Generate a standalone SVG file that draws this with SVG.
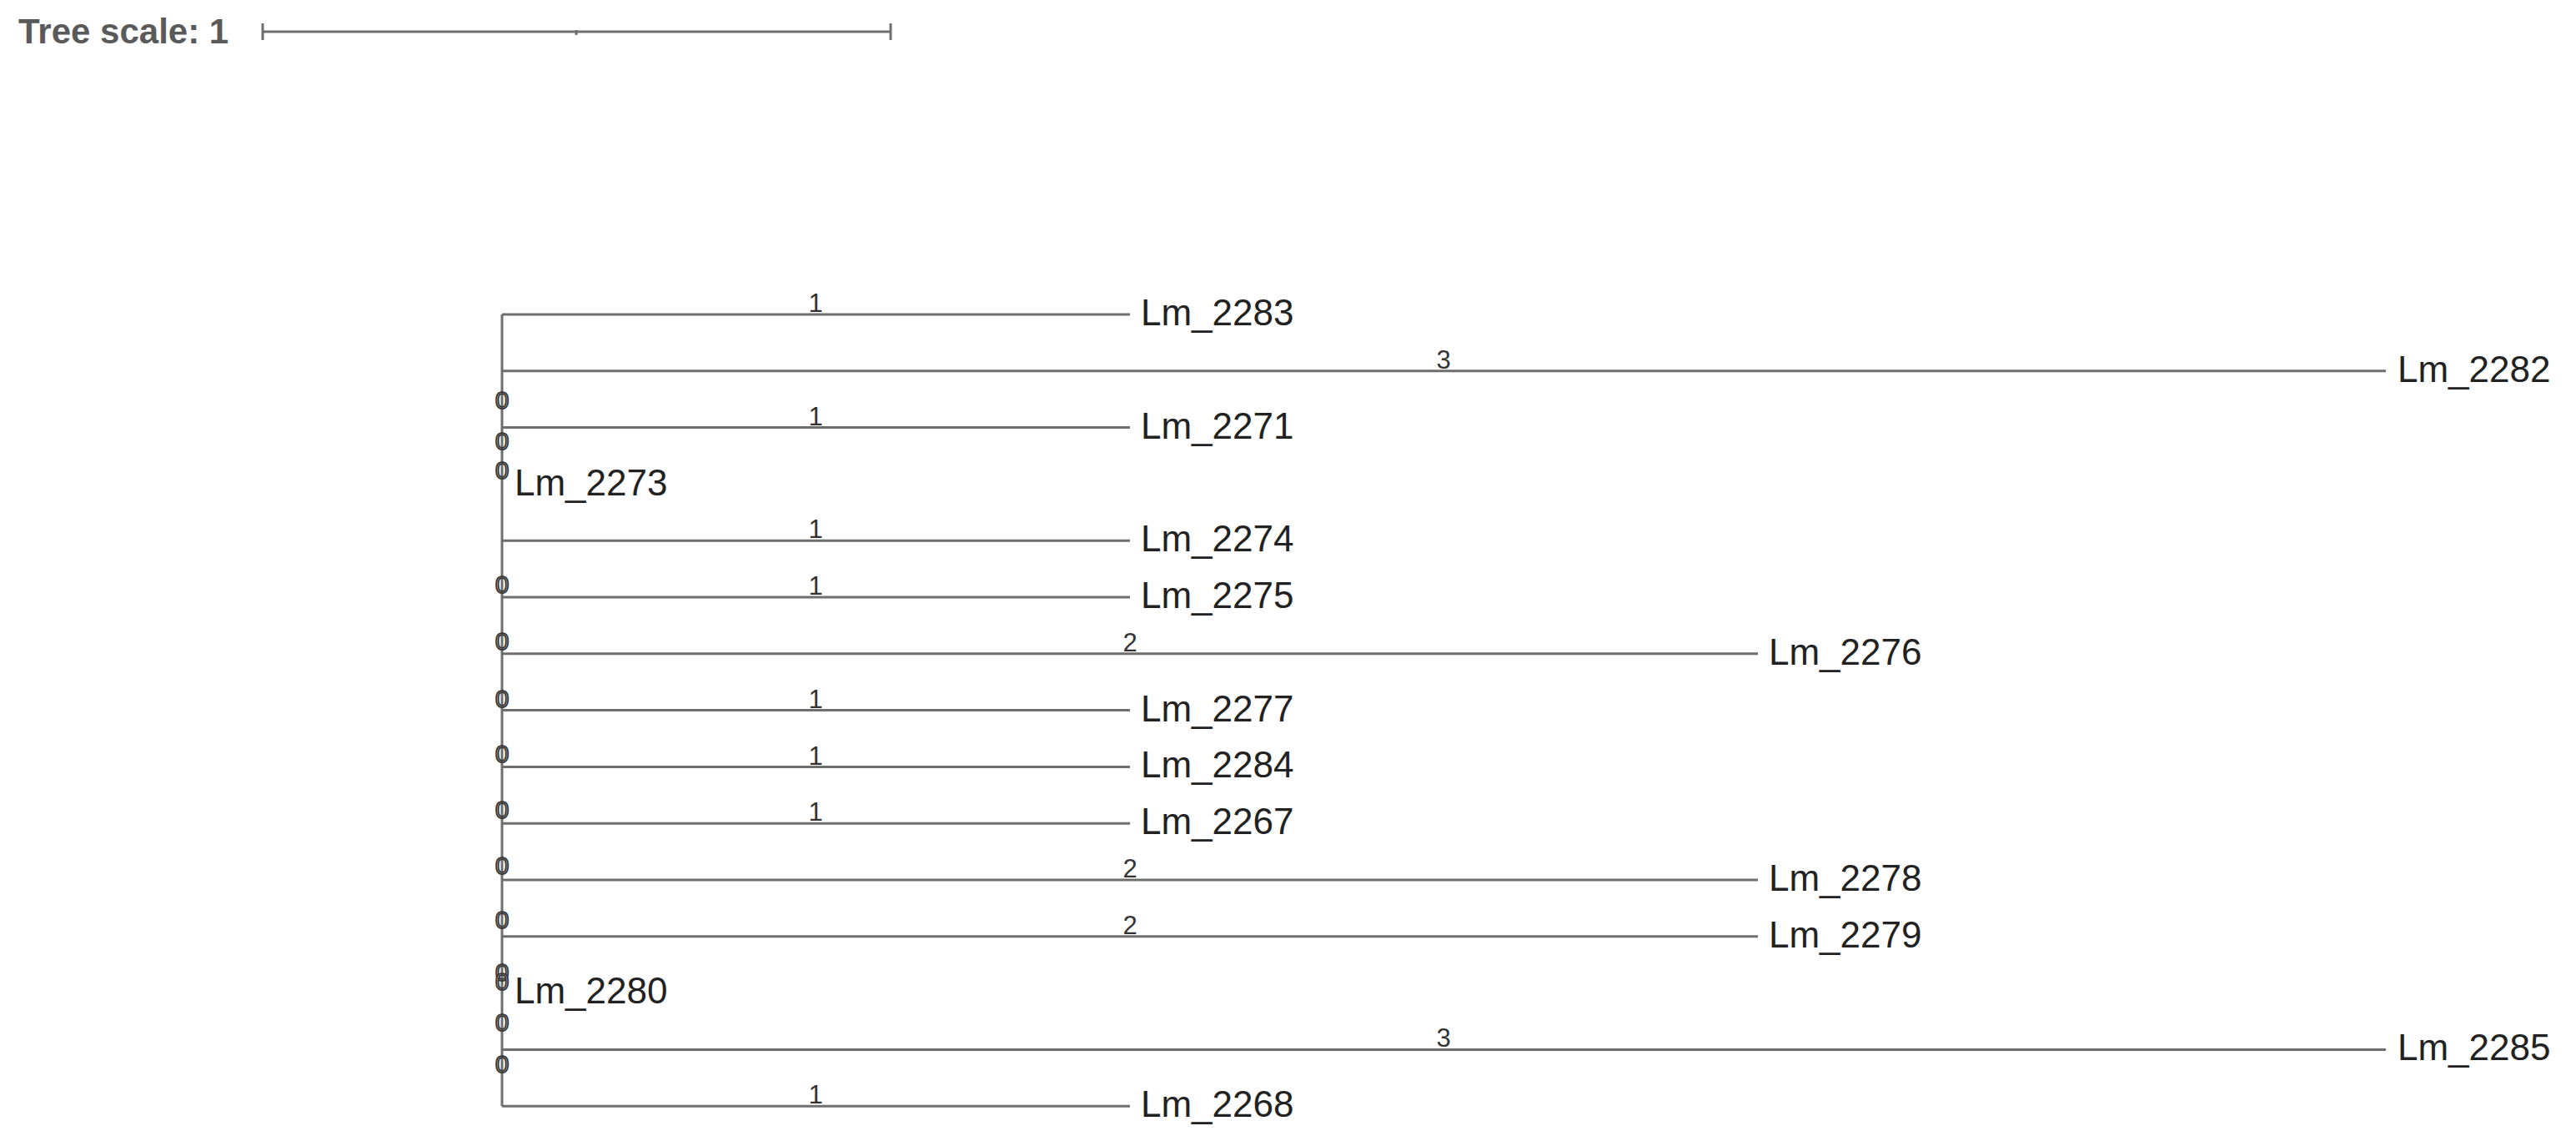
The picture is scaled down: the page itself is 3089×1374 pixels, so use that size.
<svg xmlns="http://www.w3.org/2000/svg" width="3089" height="1374" viewBox="0 0 3089 1374">
<style>
.br{stroke:#6e6e6e;stroke-width:3;fill:none}
.lbl{font-family:"Liberation Sans",Arial,sans-serif;font-size:44px;fill:#222}
.bl{font-family:"Liberation Sans",Arial,sans-serif;font-size:31px;fill:#333;text-anchor:middle}
.z{font-family:"Liberation Sans",Arial,sans-serif;font-size:30px;fill:#9a9a9a;stroke:#333;stroke-width:1.6;text-anchor:middle}
.ts{font-family:"Liberation Sans",Arial,sans-serif;font-size:42px;font-weight:bold;fill:#5a5a5a}
</style>
<rect width="3089" height="1374" fill="#fff"/>
<g id="scale">
<text class="ts" x="22" y="52">Tree scale: 1</text>
<line class="br" x1="315" y1="38" x2="1068" y2="38"/>
<line class="br" x1="315" y1="28" x2="315" y2="48"/>
<line class="br" x1="691" y1="36" x2="691" y2="42"/>
<line class="br" x1="1068" y1="28" x2="1068" y2="48"/>
</g>
<g id="connectors">
<line class="br" x1="602" y1="377" x2="602" y2="1326.2"/>
<line class="br" x1="602" y1="377" x2="1355" y2="377"/>
<line class="br" x1="602" y1="444.8" x2="2861" y2="444.8"/>
<line class="br" x1="602" y1="512.6" x2="1355" y2="512.6"/>
<line class="br" x1="602" y1="648.2" x2="1355" y2="648.2"/>
<line class="br" x1="602" y1="716" x2="1355" y2="716"/>
<line class="br" x1="602" y1="783.8" x2="2108" y2="783.8"/>
<line class="br" x1="602" y1="851.6" x2="1355" y2="851.6"/>
<line class="br" x1="602" y1="919.4" x2="1355" y2="919.4"/>
<line class="br" x1="602" y1="987.2" x2="1355" y2="987.2"/>
<line class="br" x1="602" y1="1055" x2="2108" y2="1055"/>
<line class="br" x1="602" y1="1122.8" x2="2108" y2="1122.8"/>
<line class="br" x1="602" y1="1258.4" x2="2861" y2="1258.4"/>
<line class="br" x1="602" y1="1326.2" x2="1355" y2="1326.2"/>
</g>
<g id="branch-labels">
<text class="bl" x="978" y="374">1</text>
<text class="bl" x="1731" y="442">3</text>
<text class="bl" x="978" y="510">1</text>
<text class="bl" x="978" y="645">1</text>
<text class="bl" x="978" y="713">1</text>
<text class="bl" x="1355" y="781">2</text>
<text class="bl" x="978" y="849">1</text>
<text class="bl" x="978" y="917">1</text>
<text class="bl" x="978" y="984">1</text>
<text class="bl" x="1355" y="1052">2</text>
<text class="bl" x="1355" y="1120">2</text>
<text class="bl" x="1731" y="1255">3</text>
<text class="bl" x="978" y="1323">1</text>
</g>
<g id="zero-labels">
<text class="z" x="602" y="490">0</text>
<text class="z" x="602" y="539">0</text>
<text class="z" x="602" y="574">0</text>
<text class="z" x="602" y="711">0</text>
<text class="z" x="602" y="779">0</text>
<text class="z" x="602" y="848">0</text>
<text class="z" x="602" y="914">0</text>
<text class="z" x="602" y="981">0</text>
<text class="z" x="602" y="1048">0</text>
<text class="z" x="602" y="1113">0</text>
<text class="z" x="602" y="1176">0</text>
<text class="z" x="602" y="1187">0</text>
<text class="z" x="602" y="1236">0</text>
<text class="z" x="602" y="1286">0</text>
</g>
<g id="n-Lm_2283"><text class="lbl" x="1368" y="390">Lm_2283</text></g>
<g id="n-Lm_2282"><text class="lbl" x="2875" y="458">Lm_2282</text></g>
<g id="n-Lm_2271"><text class="lbl" x="1368" y="526">Lm_2271</text></g>
<g id="n-Lm_2273"><text class="lbl" x="617" y="594">Lm_2273</text></g>
<g id="n-Lm_2274"><text class="lbl" x="1368" y="661">Lm_2274</text></g>
<g id="n-Lm_2275"><text class="lbl" x="1368" y="729">Lm_2275</text></g>
<g id="n-Lm_2276"><text class="lbl" x="2121" y="797">Lm_2276</text></g>
<g id="n-Lm_2277"><text class="lbl" x="1368" y="865">Lm_2277</text></g>
<g id="n-Lm_2284"><text class="lbl" x="1368" y="932">Lm_2284</text></g>
<g id="n-Lm_2267"><text class="lbl" x="1368" y="1000">Lm_2267</text></g>
<g id="n-Lm_2278"><text class="lbl" x="2121" y="1068">Lm_2278</text></g>
<g id="n-Lm_2279"><text class="lbl" x="2121" y="1136">Lm_2279</text></g>
<g id="n-Lm_2280"><text class="lbl" x="617" y="1203">Lm_2280</text></g>
<g id="n-Lm_2285"><text class="lbl" x="2875" y="1271">Lm_2285</text></g>
<g id="n-Lm_2268"><text class="lbl" x="1368" y="1339">Lm_2268</text></g>
</svg>
